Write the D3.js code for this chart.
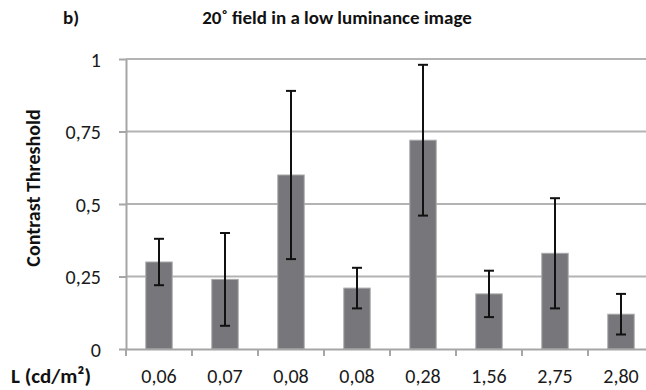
<!DOCTYPE html>
<html>
<head>
<meta charset="utf-8">
<script src="https://cdn.jsdelivr.net/npm/d3@7"></script>
<style>
  html, body { margin: 0; padding: 0; background: #fff; }
  svg { display: block; font-family: Carlito, Lato, "Open Sans", sans-serif; }
</style>
</head>
<body>
<svg id="chart" width="646" height="390"></svg>
<script>
// Luminance levels (cd/m²) for each condition
const categories = ["0,06", "0,07", "0,08", "0,08", "0,28", "1,56", "2,75", "2,80"];
// Mean contrast threshold per condition
const thresholds = [0.30, 0.24, 0.60, 0.21, 0.72, 0.19, 0.33, 0.12];
// Error bar limits (upper / lower)
const errUpper = [0.38, 0.40, 0.89, 0.28, 0.98, 0.27, 0.52, 0.19];
const errLower = [0.22, 0.08, 0.31, 0.14, 0.46, 0.11, 0.14, 0.05];
const yTicks = [0, 0.25, 0.5, 0.75, 1];
const yTickLabels = ["0", "0,25", "0,5", "0,75", "1"];

const data = categories.map((c, i) => ({
  key: i, label: c, v: thresholds[i], hi: errUpper[i], lo: errLower[i]
}));

const svg = d3.select("#chart");
const plotLeft = 126, plotRight = 654, plotTop = 59, plotBottom = 349;

const x = d3.scaleBand().domain(data.map(d => d.key)).range([plotLeft, plotRight]).paddingInner(0.6).paddingOuter(0.3);
const xb = d3.scaleBand().domain(data.map(d => d.key)).range([plotLeft, plotRight]);
const y = d3.scaleLinear().domain([0, 1]).range([plotBottom, plotTop]);

const gridColor = "#b3b3b3";
const axisColor = "#a6a6a6";

// horizontal gridlines
svg.append("g").selectAll("line").data(yTicks.filter(t => t > 0)).join("line")
  .attr("x1", plotLeft).attr("x2", plotRight)
  .attr("y1", d => y(d)).attr("y2", d => y(d))
  .attr("stroke", gridColor).attr("stroke-width", 2);

// y axis
const yAxis = d3.axisLeft(y).tickValues(yTicks).tickSize(7).tickSizeOuter(0)
  .tickFormat((d, i) => yTickLabels[i]);
const gy = svg.append("g").attr("transform", `translate(${plotLeft},0)`).call(yAxis);
gy.select(".domain").attr("stroke", axisColor).attr("stroke-width", 2);
gy.selectAll(".tick line").attr("stroke", axisColor).attr("stroke-width", 2);
gy.selectAll(".tick text").attr("x", -25).attr("dy", "0.36em")
  .attr("font-size", 20).attr("fill", "#1a1a1a").attr("font-family", "Carlito, Lato, sans-serif");

// bars
svg.append("g").selectAll("rect").data(data).join("rect")
  .attr("x", d => x(d.key)).attr("width", x.bandwidth())
  .attr("y", d => y(d.v)).attr("height", d => y(0) - y(d.v))
  .attr("fill", "#77777b").attr("stroke", "#a8a8aa").attr("stroke-width", 1);

// x axis
const xAxis = d3.axisBottom(xb).tickSize(0).tickFormat(() => "");
const gx = svg.append("g").attr("transform", `translate(0,${plotBottom})`).call(xAxis);
gx.select(".domain").attr("stroke", axisColor).attr("stroke-width", 2);
gx.selectAll(".tick").remove();
svg.append("g").selectAll("line").data(data).join("line")
  .attr("x1", d => xb(d.key)).attr("x2", d => xb(d.key))
  .attr("y1", plotBottom).attr("y2", plotBottom + 7)
  .attr("stroke", axisColor).attr("stroke-width", 2);

// category labels
svg.append("g").selectAll("text").data(data).join("text")
  .attr("x", d => xb(d.key) + xb.bandwidth() / 2).attr("y", 383)
  .attr("text-anchor", "middle").attr("font-size", 20).attr("fill", "#1a1a1a")
  .text(d => d.label);

// error bars
const eb = svg.append("g").attr("stroke", "#111").attr("stroke-width", 2);
const cx = d => x(d.key) + x.bandwidth() / 2;
eb.selectAll(".v").data(data).join("line")
  .attr("x1", cx).attr("x2", cx).attr("y1", d => y(d.hi)).attr("y2", d => y(d.lo));
eb.selectAll(".t").data(data).join("line")
  .attr("x1", d => cx(d) - 5).attr("x2", d => cx(d) + 5).attr("y1", d => y(d.hi)).attr("y2", d => y(d.hi));
eb.selectAll(".b").data(data).join("line")
  .attr("x1", d => cx(d) - 5).attr("x2", d => cx(d) + 5).attr("y1", d => y(d.lo)).attr("y2", d => y(d.lo));

// titles
svg.append("text").attr("x", 63).attr("y", 24).attr("font-size", 19).attr("font-weight", "bold")
  .attr("fill", "#111").text("b)");
svg.append("text").attr("x", 337).attr("y", 24).attr("text-anchor", "middle")
  .attr("font-size", 19).attr("font-weight", "bold").attr("fill", "#111")
  .text("20˚ field in a low luminance image");
svg.append("text").attr("transform", "translate(40,188) rotate(-90)")
  .attr("text-anchor", "middle").attr("font-size", 20).attr("font-weight", "bold").attr("fill", "#111")
  .text("Contrast Threshold");
svg.append("text").attr("x", 11).attr("y", 383).attr("font-size", 21).attr("font-weight", "bold")
  .attr("fill", "#111").text("L (cd/m²)");
</script>
</body>
</html>
